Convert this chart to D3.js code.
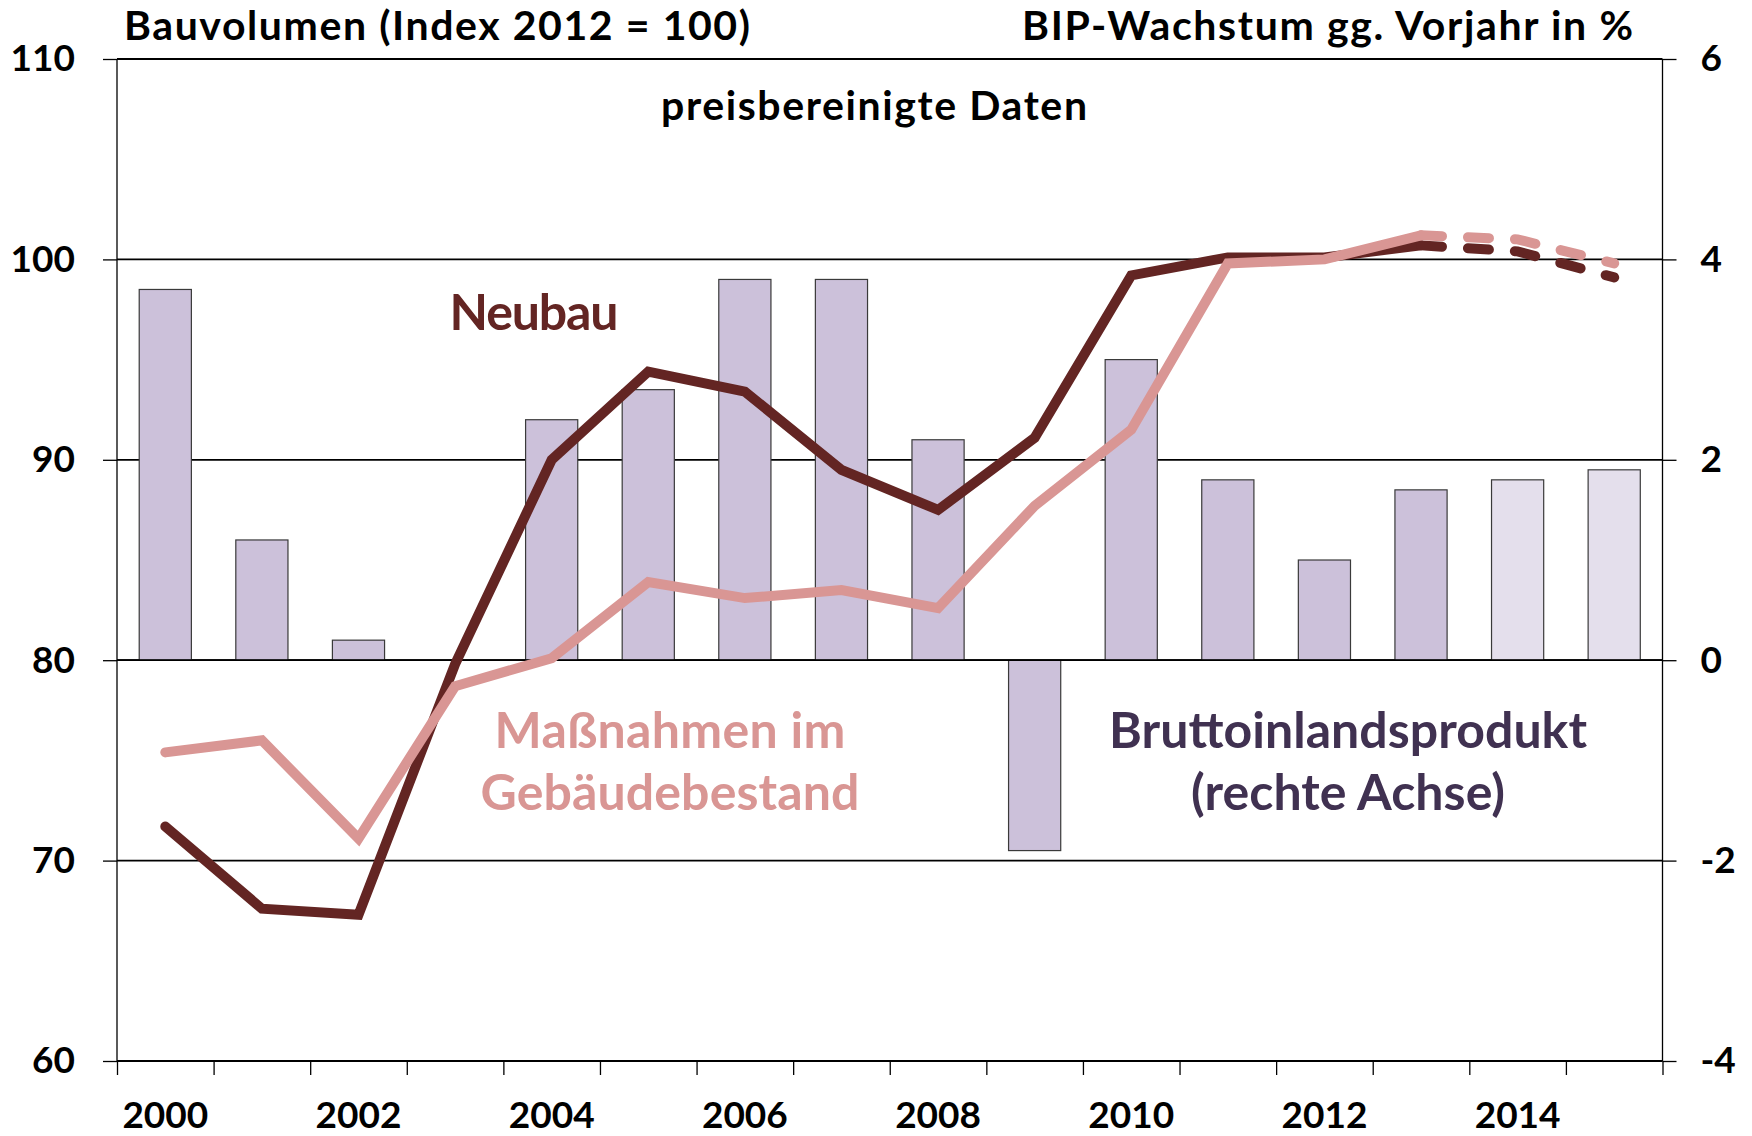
<!DOCTYPE html>
<html>
<head>
<meta charset="utf-8">
<script src="https://cdn.jsdelivr.net/npm/d3@7"></script>
<style>
  body { margin: 0; background: #fff; }
  svg { display: block; font-family: Lato, "Open Sans", sans-serif; font-weight: bold; }
  .axis path { display: none; }
  .axis line { stroke: #000; stroke-width: 1.3; }
  .axis text { font-size: 37px; fill: #000; font-family: Lato, sans-serif; font-weight: bold; }
</style>
</head>
<body>
<svg id="chart"></svg>
<script>
// years on the x axis
var years = [2000, 2001, 2002, 2003, 2004, 2005, 2006, 2007, 2008, 2009, 2010, 2011, 2012, 2013, 2014, 2015];
// GDP growth in % (right axis), 2003 has no visible bar
var gdp = [3.7, 1.2, 0.2, null, 2.4, 2.7, 3.8, 3.8, 2.2, -1.9, 3.0, 1.8, 1.0, 1.7, 1.8, 1.9];
// Bauvolumen, index 2012 = 100 (left axis)
var neubau = [71.7, 67.6, 67.3, 79.8, 90.0, 94.4, 93.4, 89.5, 87.5, 91.1, 99.2, 100.1, 100.1, 100.7, 100.4, 99.1];
var massnahmen = [75.4, 76.0, 71.1, 78.7, 80.1, 83.9, 83.1, 83.5, 82.6, 87.7, 91.5, 99.8, 100.0, 101.2, 101.0, 99.8];
var forecastYears = [2014, 2015];   // lighter bars, dashed lines
var leftTicks = [60, 70, 80, 90, 100, 110];
var rightTicks = [-4, -2, 0, 2, 4, 6];

var width = 1752, height = 1136;
var margin = {top: 59, right: 89.5, bottom: 75, left: 117};

var svg = d3.select("#chart")
    .attr("width", width)
    .attr("height", height);

var x = d3.scaleBand()
    .domain(years)
    .range([margin.left, width - margin.right])
    .paddingInner(0.46)
    .paddingOuter(0.23);

// linear scale over the bands, for the ticks between years
var xEdge = d3.scaleLinear()
    .domain([0, years.length])
    .range([margin.left, width - margin.right]);

var yL = d3.scaleLinear()
    .domain([60, 110])
    .range([height - margin.bottom, margin.top]);

var yR = d3.scaleLinear()
    .domain([-4, 6])
    .range([height - margin.bottom, margin.top]);

function cx(d) { return x(d) + x.bandwidth() / 2; }

// horizontal grid lines
svg.append("g")
    .selectAll("line")
    .data(leftTicks)
    .enter().append("line")
    .attr("x1", margin.left)
    .attr("x2", width - margin.right)
    .attr("y1", function(d) { return yL(d); })
    .attr("y2", function(d) { return yL(d); })
    .attr("stroke", "#000")
    .attr("stroke-width", 1.8);

// bars (GDP)
var barData = years.map(function(y, i) { return {year: y, v: gdp[i]}; })
    .filter(function(d) { return d.v != null; });

svg.append("g")
    .selectAll("rect")
    .data(barData)
    .enter().append("rect")
    .attr("x", function(d) { return x(d.year); })
    .attr("width", x.bandwidth())
    .attr("y", function(d) { return yR(Math.max(0, d.v)); })
    .attr("height", function(d) { return Math.abs(yR(d.v) - yR(0)); })
    .attr("fill", function(d) { return forecastYears.indexOf(d.year) >= 0 ? "#E4DFEC" : "#CCC1DA"; })
    .attr("stroke", "#3a3a3a")
    .attr("stroke-width", 1.2);

// zero line of the right axis is the 80 grid line; redraw it above the bars
svg.append("line")
    .attr("x1", margin.left)
    .attr("x2", width - margin.right)
    .attr("y1", yL(80))
    .attr("y2", yL(80))
    .attr("stroke", "#000")
    .attr("stroke-width", 1.8);

// axes
svg.append("g")
    .attr("class", "axis")
    .attr("transform", "translate(" + margin.left + ",0)")
    .call(d3.axisLeft(yL).tickValues(leftTicks).tickSize(14).tickPadding(28));

svg.append("g")
    .attr("class", "axis")
    .attr("transform", "translate(" + (width - margin.right) + ",0)")
    .call(d3.axisRight(yR).tickValues(rightTicks).tickSize(14).tickPadding(24)
        .tickFormat(function(d) { return String(d); }));

svg.append("g")
    .attr("class", "axis")
    .attr("transform", "translate(0," + (height - margin.bottom) + ")")
    .call(d3.axisBottom(xEdge).ticks(years.length).tickSize(14).tickFormat(""));

svg.append("g")
    .attr("class", "axis")
    .attr("transform", "translate(0," + (height - margin.bottom) + ")")
    .call(d3.axisBottom(x).tickSize(0).tickPadding(41)
        .tickFormat(function(d) { return d % 2 == 0 ? d : ""; }));

// vertical axis lines
svg.append("line")
    .attr("x1", margin.left).attr("x2", margin.left)
    .attr("y1", margin.top).attr("y2", height - margin.bottom)
    .attr("stroke", "#000").attr("stroke-width", 1.3);
svg.append("line")
    .attr("x1", width - margin.right).attr("x2", width - margin.right)
    .attr("y1", margin.top).attr("y2", height - margin.bottom)
    .attr("stroke", "#000").attr("stroke-width", 1.3);

// lines, solid up to 2013 then dashed
var lastActual = 2013;
function drawSeries(values, color) {
    var pts = years.map(function(y, i) { return {year: y, v: values[i]}; });
    var line = d3.line()
        .x(function(d) { return cx(d.year); })
        .y(function(d) { return yL(d.v); });

    svg.append("path")
        .datum(pts.filter(function(d) { return d.year <= lastActual; }))
        .attr("d", line)
        .attr("fill", "none")
        .attr("stroke", color)
        .attr("stroke-width", 10)
        .attr("stroke-linecap", "round")
        .attr("stroke-linejoin", "miter");

    svg.append("path")
        .datum(pts.filter(function(d) { return d.year >= lastActual; }))
        .attr("d", line)
        .attr("fill", "none")
        .attr("stroke", color)
        .attr("stroke-width", 10)
        .attr("stroke-linecap", "round")
        .attr("stroke-dasharray", "21,26");
}
drawSeries(neubau, "#632523");
drawSeries(massnahmen, "#D99694");

// texts (widths fitted to the reference with textLength)
function label(txt, px, py, size, anchor, color, len) {
    svg.append("text")
        .attr("x", px).attr("y", py)
        .attr("text-anchor", anchor)
        .attr("font-size", size)
        .attr("fill", color)
        .attr("textLength", len)
        .attr("lengthAdjust", "spacing")
        .text(txt);
}
label("Bauvolumen (Index 2012 = 100)", 124, 40, 41, "start", "#000", 626);
label("BIP-Wachstum gg. Vorjahr in %", 1633, 40, 41, "end", "#000", 611);
label("preisbereinigte Daten", 874, 120, 41, "middle", "#000", 426);
label("Neubau", 534, 330, 50, "middle", "#632523", 169);
label("Maßnahmen im", 670, 748, 50, "middle", "#D99694", 351);
label("Gebäudebestand", 670, 810, 50, "middle", "#D99694", 379);
label("Bruttoinlandsprodukt", 1348, 748, 50, "middle", "#403151", 478);
label("(rechte Achse)", 1348, 810, 50, "middle", "#403151", 314);
</script>
</body>
</html>
